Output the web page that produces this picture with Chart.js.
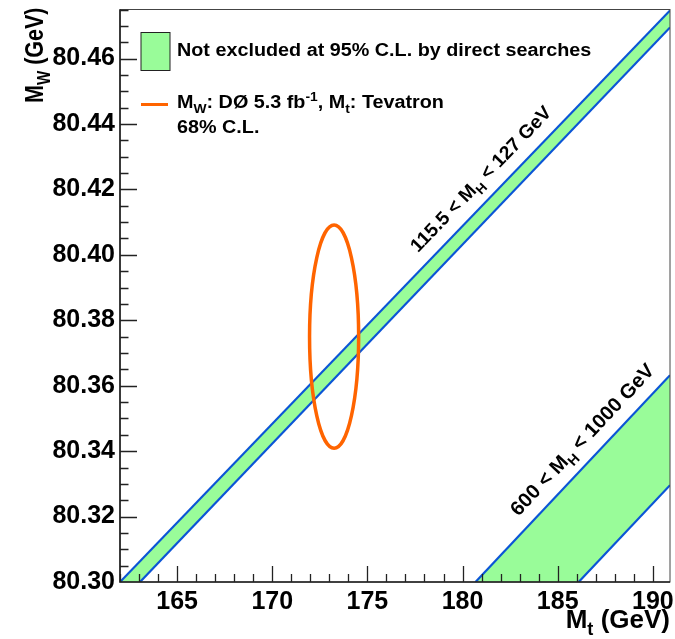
<!DOCTYPE html>
<html>
<head>
<meta charset="utf-8">
<script src="https://cdn.jsdelivr.net/npm/chart.js@4.4.0/dist/chart.umd.min.js"></script>
<style>
  html, body { margin: 0; padding: 0; background: #fff; }
  #wrap { width: 675px; height: 639px; }
</style>
</head>
<body>
<div id="wrap"><canvas id="mwmt"></canvas></div>
<script>
// оси
const xTicks = [165, 170, 175, 180, 185, 190];
const yTicks = [80.30, 80.32, 80.34, 80.36, 80.38, 80.40, 80.42, 80.44, 80.46];
const xRange = [162, 190.9];
const yRange = [80.30, 80.475];

// полоса 115.5 < MH < 127 GeV (верхняя и нижняя граница)
const lowMhUpper = [{x: 162.0, y: 80.300}, {x: 190.9, y: 80.4747}];
const lowMhLower = [{x: 163.05, y: 80.300}, {x: 190.9, y: 80.4695}];
// полоса 600 < MH < 1000 GeV
const highMhUpper = [{x: 180.68, y: 80.300}, {x: 190.9, y: 80.3632}];
const highMhLower = [{x: 186.1, y: 80.300}, {x: 190.9, y: 80.3296}];

// эллипс 68% C.L.: центр (Mt, MW) и полуоси
const ellipseCenter = [173.25, 80.375];
const ellipseHalfAxes = [1.29, 0.0341];

// подписи
const legendRows = [
  [['Not excluded at 95% C.L. by direct searches', '']],
  [['M', ''], ['W', 'sub'], [': DØ 5.3 fb', ''], ['-1', 'sup'], [', M', ''], ['t', 'sub'], [': Tevatron', '']],
  [['68% C.L.', '']],
];
const lowMhText = [['115.5 < M', ''], ['H', 'sub'], [' < 127 GeV', '']];
const highMhText = [['600 < M', ''], ['H', 'sub'], [' < 1000 GeV', '']];
const xTitle = [['M', ''], ['t', 'sub'], [' (GeV)', '']];
const yTitle = [['M', ''], ['W', 'sub'], [' (GeV)', '']];

const GREEN = '#99fc99';
const BLUE = '#0b55d6';
const ORANGE = '#ff6400';
const FAMILY = '"Liberation Sans", Arial, Helvetica, sans-serif';

function font(size) {
  return 'bold ' + size + 'px ' + FAMILY;
}

// текст с индексами; sx - растяжение по горизонтали
function drawRich(ctx, parts, x, y, size, sx, align) {
  let total = 0;
  parts.forEach(p => {
    ctx.font = font(p[1] ? size * 0.7 : size);
    total += ctx.measureText(p[0]).width;
  });
  ctx.save();
  ctx.translate(x, y);
  ctx.scale(sx, 1);
  let cx = align === 'right' ? -total : 0;
  ctx.textAlign = 'left';
  ctx.textBaseline = 'alphabetic';
  ctx.fillStyle = '#000';
  parts.forEach(p => {
    const s = p[1] ? size * 0.7 : size;
    const dy = p[1] === 'sub' ? size * 0.28 : (p[1] === 'sup' ? -size * 0.4 : 0);
    ctx.font = font(s);
    ctx.fillText(p[0], cx, dy);
    cx += ctx.measureText(p[0]).width;
  });
  ctx.restore();
}

// подпись вдоль границы полосы
function bandLabel(ctx, chart, parts, edge, at, size) {
  const xs = chart.scales.x, ys = chart.scales.y;
  const x0 = xs.getPixelForValue(edge[0].x), y0 = ys.getPixelForValue(edge[0].y);
  const x1 = xs.getPixelForValue(edge[1].x), y1 = ys.getPixelForValue(edge[1].y);
  const angle = Math.atan2(y1 - y0, x1 - x0);
  ctx.save();
  ctx.translate(xs.getPixelForValue(at[0]), ys.getPixelForValue(at[1]));
  ctx.rotate(angle);
  drawRich(ctx, parts, 0, 0, size, 1.02, 'left');
  ctx.restore();
}

const decor = {
  id: 'decor',
  afterDatasetsDraw(chart) {
    const ctx = chart.ctx;
    const xs = chart.scales.x, ys = chart.scales.y;
    const a = chart.chartArea;

    // эллипс
    const cx = xs.getPixelForValue(ellipseCenter[0]);
    const cy = ys.getPixelForValue(ellipseCenter[1]);
    const rx = xs.getPixelForValue(ellipseCenter[0] + ellipseHalfAxes[0]) - cx;
    const ry = cy - ys.getPixelForValue(ellipseCenter[1] + ellipseHalfAxes[1]);
    ctx.save();
    ctx.strokeStyle = ORANGE;
    ctx.lineWidth = 3.5;
    ctx.beginPath();
    ctx.ellipse(cx, cy, rx, ry, 0, 0, Math.PI * 2);
    ctx.stroke();
    ctx.restore();

    // рамка
    ctx.save();
    ctx.strokeStyle = '#444';
    ctx.lineWidth = 1;
    ctx.strokeRect(a.left, a.top, a.right - a.left, a.bottom - a.top);
    ctx.strokeStyle = '#222';
    ctx.lineWidth = 1.6;
    ctx.beginPath();
    ctx.moveTo(a.left, a.top);
    ctx.lineTo(a.left, a.bottom);
    ctx.lineTo(a.right, a.bottom);
    ctx.stroke();

    // засечки
    ctx.lineWidth = 1.3;
    ctx.beginPath();
    for (let v = Math.ceil(xRange[0]); v <= xRange[1]; v++) {
      const px = Math.round(xs.getPixelForValue(v)) + 0.5;
      const len = v % 5 === 0 ? 16 : 8;
      ctx.moveTo(px, a.bottom);
      ctx.lineTo(px, a.bottom - len);
    }
    for (let i = 1; i * 0.005 + yRange[0] <= yRange[1] + 1e-9; i++) {
      const v = yRange[0] + i * 0.005;
      const py = Math.round(ys.getPixelForValue(v)) + 0.5;
      const len = i % 4 === 0 ? 17 : 8.5;
      ctx.moveTo(a.left, py);
      ctx.lineTo(a.left + len, py);
    }
    ctx.stroke();
    ctx.restore();
  },
  afterDraw(chart) {
    const ctx = chart.ctx;
    const a = chart.chartArea;

    // легенда
    ctx.save();
    ctx.fillStyle = GREEN;
    ctx.fillRect(141, 32.5, 29, 38);
    ctx.strokeStyle = '#222';
    ctx.lineWidth = 1;
    ctx.strokeRect(141, 32.5, 29, 38);
    ctx.strokeStyle = ORANGE;
    ctx.lineWidth = 3;
    ctx.beginPath();
    ctx.moveTo(141, 104.5);
    ctx.lineTo(168, 104.5);
    ctx.stroke();
    ctx.restore();
    drawRich(ctx, legendRows[0], 177, 56, 17.5, 1.13, 'left');
    drawRich(ctx, legendRows[1], 177, 108, 17.5, 1.13, 'left');
    drawRich(ctx, legendRows[2], 177, 133, 17.5, 1.13, 'left');

    // подписи полос
    bandLabel(ctx, chart, lowMhText, lowMhUpper, [177.66, 80.4005], 19);
    bandLabel(ctx, chart, highMhText, highMhUpper, [182.94, 80.3199], 20);

    // названия осей
    drawRich(ctx, xTitle, a.right, 628, 25, 1.04, 'right');
    ctx.save();
    ctx.translate(43, a.top - 2);
    ctx.scale(1.2, 1);
    ctx.rotate(-Math.PI / 2);
    drawRich(ctx, yTitle, 0, 0, 21.5, 1, 'right');
    ctx.restore();
  }
};

function bandFill(upper, lower) {
  return {
    data: upper.concat(lower.slice().reverse()),
    showLine: true,
    fill: 'shape',
    backgroundColor: GREEN,
    borderWidth: 0,
    borderColor: 'rgba(0,0,0,0)',
    pointRadius: 0,
    order: 2,
  };
}

function bandEdge(points) {
  return {
    data: points,
    showLine: true,
    fill: false,
    borderColor: BLUE,
    borderWidth: 2.2,
    pointRadius: 0,
    order: 1,
  };
}

const tickFont = { family: FAMILY, size: 25, weight: 'bold' };

const chart = new Chart(document.getElementById('mwmt'), {
  type: 'scatter',
  data: {
    datasets: [
      bandFill(lowMhUpper, lowMhLower),
      bandEdge(lowMhUpper),
      bandEdge(lowMhLower),
      bandFill(highMhUpper, highMhLower),
      bandEdge(highMhUpper),
      bandEdge(highMhLower),
    ],
  },
  options: {
    responsive: true,
    maintainAspectRatio: false,
    animation: false,
    layout: { padding: { top: 9.5, right: 5, left: 0, bottom: 0 } },
    plugins: {
      legend: { display: false },
      tooltip: { enabled: false },
    },
    scales: {
      x: {
        type: 'linear',
        min: xRange[0],
        max: xRange[1],
        grid: { display: false, drawTicks: false },
        border: { display: false },
        afterBuildTicks: (s) => { s.ticks = xTicks.map(v => ({ value: v })); },
        afterFit: (s) => { s.height = 57; s.paddingLeft = 0; s.paddingRight = 0; },
        ticks: { padding: 5, color: '#000', font: tickFont, maxRotation: 0, autoSkip: false },
      },
      y: {
        type: 'linear',
        min: yRange[0],
        max: yRange[1],
        grid: { display: false, drawTicks: false },
        border: { display: false },
        afterBuildTicks: (s) => { s.ticks = yTicks.map(v => ({ value: v })); },
        afterFit: (s) => { s.width = 120; s.paddingTop = 0; s.paddingBottom = 0; },
        ticks: {
          padding: 5, color: '#000', font: tickFont, autoSkip: false,
          callback: (v) => v.toFixed(2),
        },
      },
    },
  },
  plugins: [decor],
});
</script>
</body>
</html>
